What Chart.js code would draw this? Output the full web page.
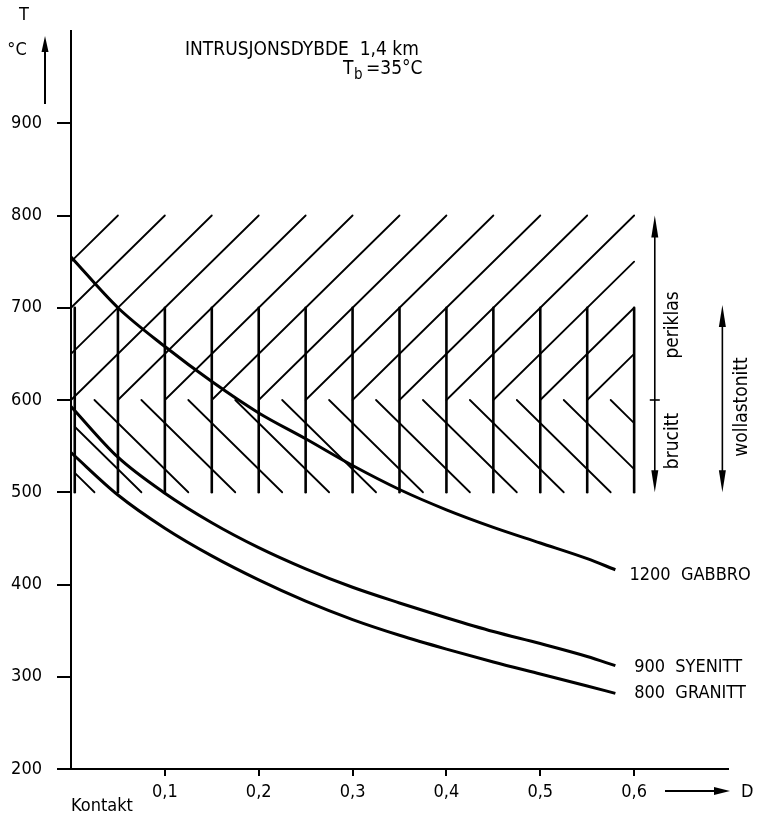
<!DOCTYPE html>
<html>
<head>
<meta charset="utf-8">
<script src="https://cdn.jsdelivr.net/npm/chart.js@4"></script>
<style>
  html, body { margin: 0; padding: 0; background: #fff; }
  #wrap { width: 763px; height: 820px; }
</style>
</head>
<body>
<div id="wrap"><canvas id="chart"></canvas></div>
<script>
// avstand fra kontakt (D) og temperatur (T, °C)
const distance = [0, 0.05, 0.1, 0.15, 0.2, 0.25, 0.3, 0.35, 0.4, 0.45, 0.5, 0.55, 0.58];
const gabbro1200 = [755, 700, 658, 620, 586, 558, 529, 503, 481, 462, 445, 428, 416];
const syenitt900 = [593, 538, 499, 467, 440, 417, 397, 380, 364, 349, 336, 322, 312];
const granitt800 = [543, 497, 461, 431, 405, 382, 362, 345, 330, 316, 303, 290, 282];

const xTickValues = [0.1, 0.2, 0.3, 0.4, 0.5, 0.6];
const xTickLabels = ['0,1', '0,2', '0,3', '0,4', '0,5', '0,6'];
const yTickValues = [200, 300, 400, 500, 600, 700, 800, 900];

// skravering: periklas (/) og brucitt (\)
const zoneVerticals = [0.004, 0.05, 0.1, 0.15, 0.2, 0.25, 0.3, 0.35, 0.4, 0.45, 0.5, 0.55, 0.6];
const periklasStarts = [[0, 750], [0, 700], [0, 650], [0, 600], [0.05, 600], [0.1, 600], [0.15, 600],
  [0.2, 600], [0.25, 600], [0.3, 600], [0.35, 600], [0.4, 600], [0.45, 600], [0.5, 600], [0.55, 600]];
const brucittStarts = [-0.075, -0.025, 0.025, 0.075, 0.125, 0.175, 0.225, 0.275, 0.325, 0.375,
  0.425, 0.475, 0.525, 0.575];

const curveLabels = [
  { text: '1200  GABBRO', d: 0.595, t: 410 },
  { text: '900  SYENITT', d: 0.6, t: 310 },
  { text: '800  GRANITT', d: 0.6, t: 282 }
];

const FONT = "'DejaVu Sans Condensed', 'Liberation Sans Narrow', 'DejaVu Sans', sans-serif";

function seg(ctx, x1, y1, x2, y2) {
  ctx.beginPath(); ctx.moveTo(x1, y1); ctx.lineTo(x2, y2); ctx.stroke();
}
function head(ctx, x, y, dir, len, half) {
  // dir: 1 = peker opp, -1 = peker ned
  ctx.beginPath();
  ctx.moveTo(x, y);
  ctx.lineTo(x - half, y + dir * len);
  ctx.lineTo(x + half, y + dir * len);
  ctx.closePath(); ctx.fill();
}
function vtext(ctx, txt, x, y) {
  ctx.save(); ctx.translate(x, y); ctx.rotate(-Math.PI / 2);
  ctx.textAlign = 'center'; ctx.textBaseline = 'middle';
  ctx.fillText(txt, 0, 0); ctx.restore();
}

const sketch = {
  id: 'sketch',
  beforeDatasetsDraw(chart) {
    const ctx = chart.ctx, xs = chart.scales.x, ys = chart.scales.y;
    const px = d => xs.getPixelForValue(d), py = t => ys.getPixelForValue(t);
    const slope = 1000, left = 0.004, right = 0.6;
    ctx.save();
    ctx.strokeStyle = '#000'; ctx.lineCap = 'round';
    ctx.lineWidth = 2.6;
    zoneVerticals.forEach(d => seg(ctx, px(d), py(500), px(d), py(700)));
    ctx.lineWidth = 1.8;
    periklasStarts.forEach(([d0, t0]) => {
      const d1 = Math.min(right, d0 + (800 - t0) / slope);
      const t1 = t0 + (d1 - d0) * slope;
      seg(ctx, px(d0), py(t0), px(d1), py(t1));
    });
    brucittStarts.forEach(dm => {
      let d0 = dm, t0 = 600;
      if (d0 < left) { t0 = 600 - (left - d0) * slope; d0 = left; }
      const d1 = Math.min(right, d0 + (t0 - 500) / slope);
      const t1 = t0 - (d1 - d0) * slope;
      seg(ctx, px(d0), py(t0), px(d1), py(t1));
    });
    ctx.restore();
  },
  afterDraw(chart) {
    const ctx = chart.ctx, xs = chart.scales.x, ys = chart.scales.y;
    const px = d => xs.getPixelForValue(d), py = t => ys.getPixelForValue(t);
    ctx.save();
    ctx.fillStyle = '#000'; ctx.strokeStyle = '#000';
    ctx.textBaseline = 'middle'; ctx.textAlign = 'left';

    // overskrift
    ctx.font = '19px ' + FONT;
    ctx.fillText('INTRUSJONSDYBDE  1,4 km', 185, 50);
    ctx.fillText('T', 343, 69);
    ctx.font = '15px ' + FONT;
    ctx.fillText('b', 354, 75);
    ctx.font = '19px ' + FONT;
    ctx.fillText('=35°C', 366, 69);

    // y-akse: T, °C og pil
    ctx.font = '18px ' + FONT;
    ctx.textAlign = 'center';
    ctx.fillText('T', 24, 15);
    ctx.fillText('°C', 17, 50);
    ctx.lineWidth = 2;
    seg(ctx, 45, 104, 45, 50);
    head(ctx, 45, 36, 1, 16, 3.5);

    // x-akse: Kontakt og → D
    ctx.textAlign = 'left';
    ctx.fillText('Kontakt', 71, 806);
    seg(ctx, 665, 791, 716, 791);
    ctx.beginPath(); ctx.moveTo(730, 791); ctx.lineTo(714, 787); ctx.lineTo(714, 795); ctx.closePath(); ctx.fill();
    ctx.fillText('D', 741, 792);

    // kurvenavn
    curveLabels.forEach(l => ctx.fillText(l.text, px(l.d), py(l.t)));

    // periklas / brucitt
    ctx.font = '19px ' + FONT;
    ctx.lineWidth = 1.6;
    const xa = px(0.622);
    seg(ctx, xa, py(800) + 10, xa, py(500) - 10);
    head(ctx, xa, py(800), 1, 22, 3.5);
    head(ctx, xa, py(500), -1, 22, 3.5);
    seg(ctx, xa - 5, py(600), xa + 5, py(600));
    vtext(ctx, 'periklas', xa + 18, 325);
    vtext(ctx, 'brucitt', xa + 18, 441);

    // wollastonitt
    const xw = px(0.694);
    seg(ctx, xw, py(703) + 10, xw, py(500) - 10);
    head(ctx, xw, py(703), 1, 22, 3.5);
    head(ctx, xw, py(500), -1, 22, 3.5);
    vtext(ctx, 'wollastonitt', xw + 20, 407);
    ctx.restore();
  }
};

const line = (data) => ({
  data: distance.map((d, i) => ({ x: d, y: data[i] })),
  borderColor: '#000',
  borderWidth: 3,
  pointRadius: 0,
  cubicInterpolationMode: 'monotone',
  fill: false
});

new Chart(document.getElementById('chart').getContext('2d'), {
  type: 'line',
  data: {
    datasets: [line(gabbro1200), line(syenitt900), line(granitt800)]
  },
  options: {
    responsive: true,
    maintainAspectRatio: false,
    animation: false,
    devicePixelRatio: 1,
    layout: { padding: { top: 31, right: 35, left: 0, bottom: 0 } },
    plugins: { legend: { display: false }, tooltip: { enabled: false } },
    scales: {
      x: {
        type: 'linear', min: 0, max: 0.7,
        afterBuildTicks: s => { s.ticks = xTickValues.map(v => ({ value: v })); },
        afterFit: s => { s.height = 51; },
        ticks: {
          color: '#000', padding: 6, maxRotation: 0, autoSkip: false,
          font: { family: FONT, size: 18 },
          callback: (v, i) => xTickLabels[i]
        },
        grid: { drawOnChartArea: false, drawTicks: true, tickLength: 7, color: '#000', lineWidth: 2 },
        border: { display: true, color: '#000', width: 2 }
      },
      y: {
        type: 'linear', min: 200, max: 1000,
        afterBuildTicks: s => { s.ticks = yTickValues.map(v => ({ value: v })); },
        afterFit: s => { s.width = 71; },
        ticks: {
          color: '#000', padding: 15, autoSkip: false,
          font: { family: FONT, size: 18 }
        },
        grid: { drawOnChartArea: false, drawTicks: true, tickLength: 14, color: '#000', lineWidth: 2 },
        border: { display: true, color: '#000', width: 2 }
      }
    }
  },
  plugins: [sketch]
});
</script>
</body>
</html>
